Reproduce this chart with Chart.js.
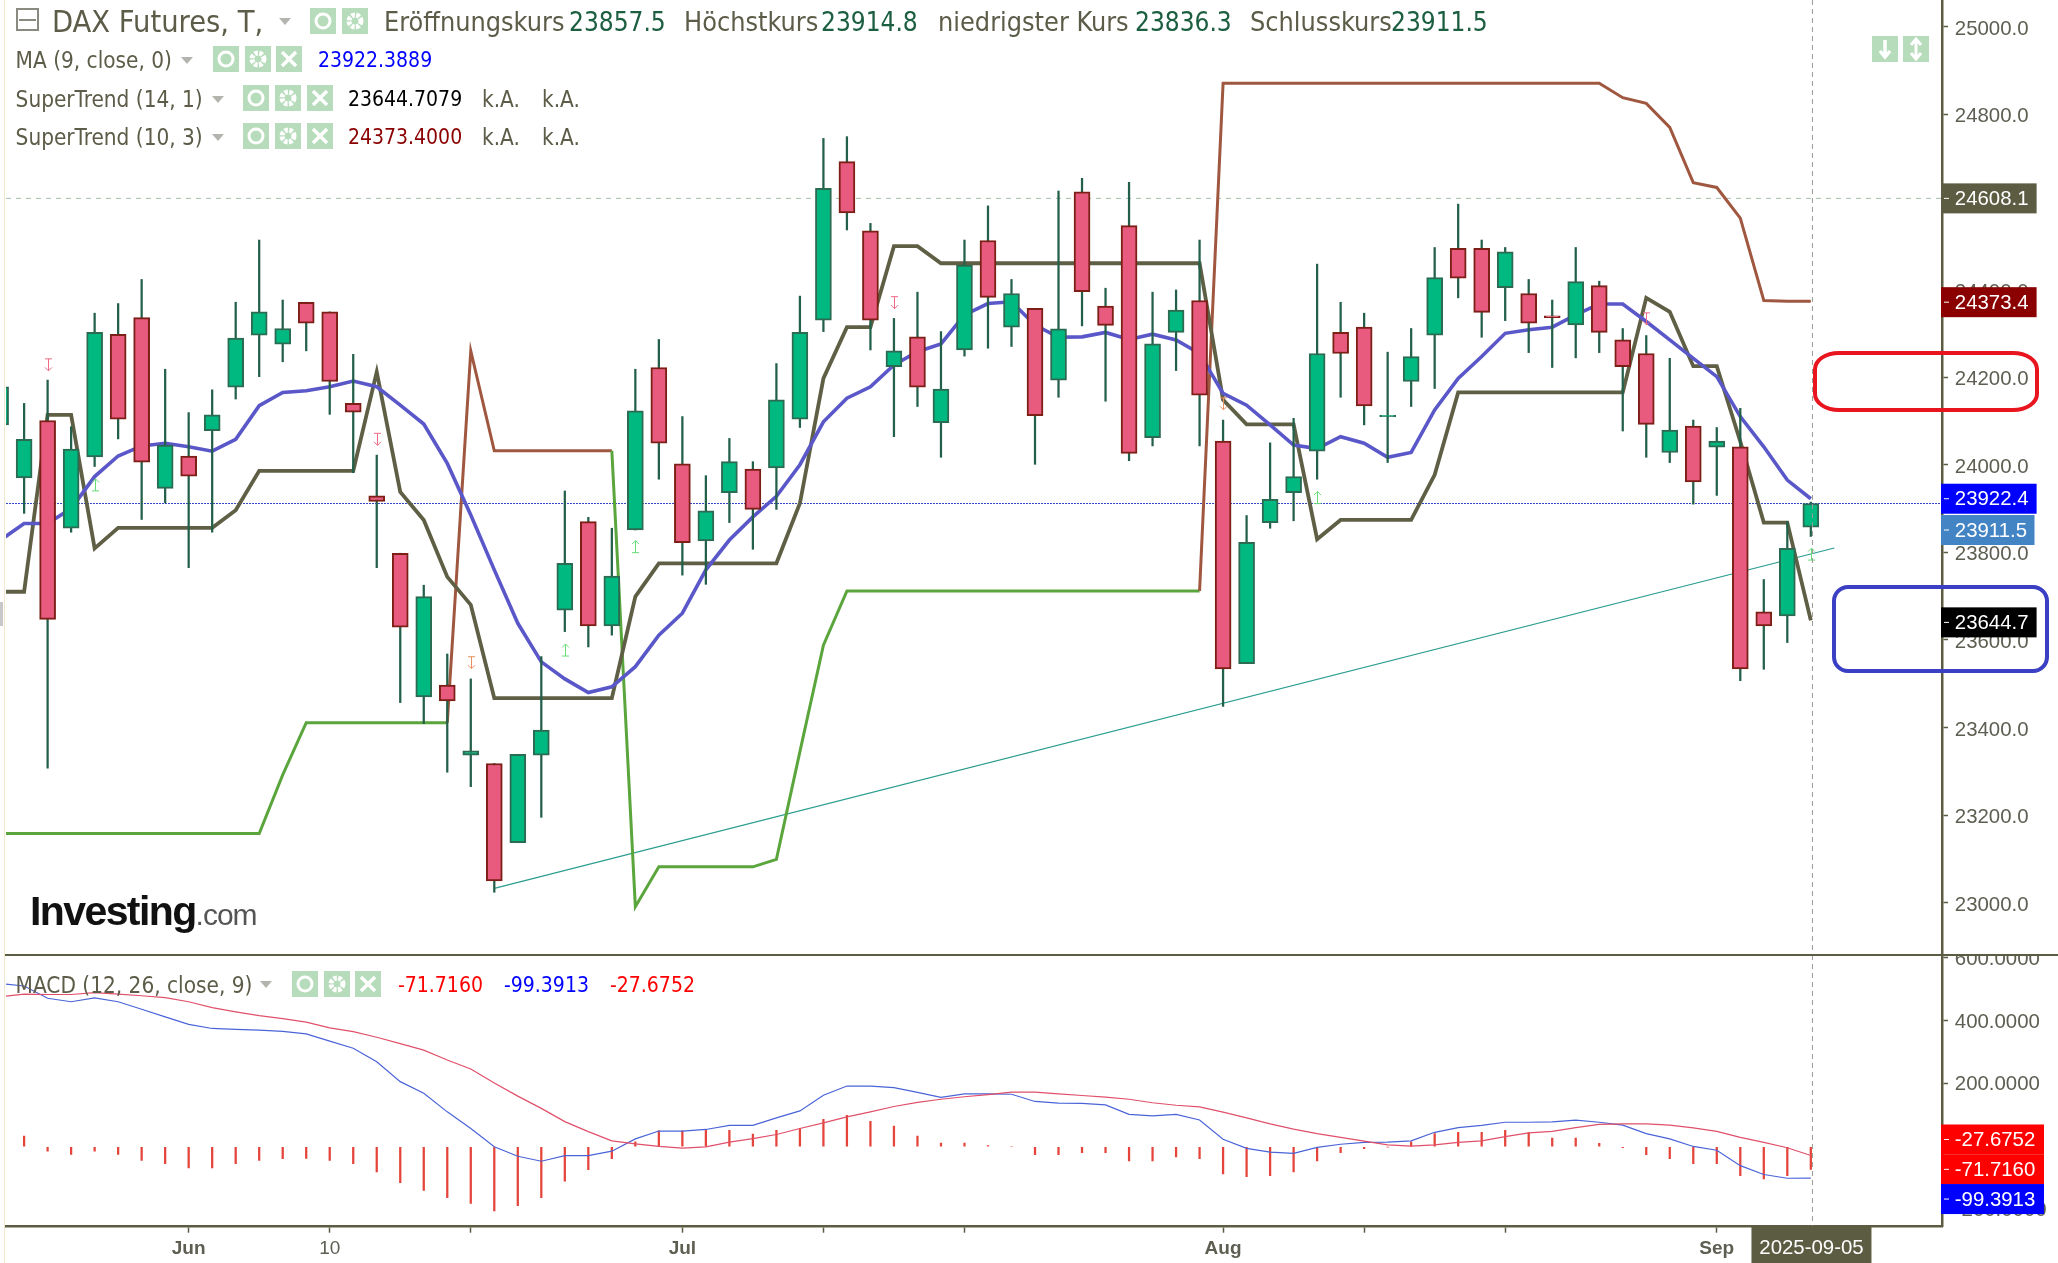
<!DOCTYPE html>
<html>
<head>
<meta charset="utf-8">
<title>DAX Futures</title>
<script src="https://cdn.jsdelivr.net/npm/chart.js"></script>
<style>
  html, body { margin: 0; padding: 0; background: #fff; }
  #page { position: relative; width: 2058px; height: 1263px; overflow: hidden; background: #fff; }
  canvas { position: absolute; left: 0; display: block; }
  #priceChart { top: 0; }
  #macdChart { top: 955px; }
  .t { position: absolute; white-space: nowrap; font-family: 'DejaVu Sans Condensed', 'DejaVu Sans', sans-serif; color: #5c5c48; line-height: 1; transform: translateY(-50%); }
  .title { font-size: 30.5px; }
  .big { font-size: 26.8px; }
  .bignum { font-size: 26px; color: #1b5e40; }
  .small { font-size: 22.4px; }
  .num { font-size: 21px; }
  .tri { position: absolute; width: 0; height: 0; border-left: 6px solid transparent; border-right: 6px solid transparent; border-top: 7px solid #b4b4ae; }
  .ic { position: absolute; width: 26px; height: 26px; background: #b6dcbb; }
  .ic svg { display: block; }
  .box { position: absolute; box-sizing: border-box; background: transparent; }
</style>
</head>
<body>
<div id="page">
  <canvas id="priceChart" width="2058" height="955"></canvas>
  <canvas id="macdChart" width="2058" height="308"></canvas>
</div>
<script>
// Candles
const opens = [24091,23970,24101,23855,24018,24298,24336,23946,24020,24078,24177,24296,24275,24371,24349,24140,23929,23798,23470,23497,23337,23318,23137,23337,23668,23870,23632,23851,24222,24002,23826,23936,23990,23993,24104,24330,24692,24534,24224,24292,24096,24262,24512,24314,24357,24193,24623,24362,24546,24062,24302,24375,24054,23546,23868,23936,24031,24302,24314,24110,24190,24296,24494,24494,24404,24391,24340,24319,24409,24285,24254,24028,24088,24040,24041,23664,23655,23857.5];
const highs = [24178,24140,24193,24087,24346,24368,24423,24218,24119,24171,24371,24513,24376,24371,24349,24252,24022,23798,23725,23568,23511,23318,23339,23562,23940,23880,23855,24218,24286,24110,23975,24060,24007,24231,24385,24745,24749,24551,24334,24394,24304,24513,24591,24423,24357,24625,24654,24403,24645,24394,24399,24513,24102,23884,24050,24106,24458,24371,24346,24257,24311,24496,24595,24513,24496,24423,24376,24496,24419,24311,24295,24243,24102,24085,24129,23738,23870,23914.8];
const lows = [24091,23889,23307,23846,23996,24059,23875,23913,23765,23846,24150,24201,24235,24260,24115,23982,23765,23457,23409,23298,23265,23024,23137,23195,23619,23584,23611,23851,23967,23748,23727,23868,23807,23898,24085,24304,24536,24262,24064,24133,24017,24248,24266,24270,24001,24154,24317,24145,24009,24043,24215,24043,23448,23546,23855,23872,23967,24154,24091,24005,24133,24174,24381,24291,24329,24256,24222,24244,24256,24077,24017,24005,23910,23930,23507,23533,23594,23836.3];
const closes = [24178,24058,23647,24036,24302,24104,24006,24045,23974,24114,24289,24349,24311,24323,24190,24120,23916,23629,23699,23461,23347,23050,23339,23394,23775,23632,23746,24123,24049,23822,23895,24007,23898,24148,24302,24631,24575,24330,24260,24177,24173,24456,24382,24391,24112,24310,24395,24318,24026,24276,24353,24159,23534,23823,23921,23973,24254,24254,24134,24113,24247,24427,24426,24348,24486,24323,24336,24418,24302,24224,24092,24079,23961,24054,23534,23632,23809,23911.5];

// Price overlays
const maValues = [23828,23866,23866,23900,23973,24020,24043,24049,24041,24031,24058,24135,24165,24169,24178,24191,24178,24136,24093,24003,23885,23760,23638,23550,23511,23480,23493,23539,23611,23661,23760,23828,23881,23928,24000,24098,24152,24178,24228,24258,24276,24342,24368,24372,24319,24291,24292,24302,24286,24298,24285,24254,24163,24136,24091,24045,24037,24064,24049,24017,24028,24125,24197,24247,24300,24308,24314,24342,24367,24367,24327,24285,24243,24201,24110,24041,23965,23922.4];
const superTrend14 = [23710,23710,24114,24114,23809,23856,23856,23856,23856,23856,23896,23986,23986,23986,23986,23986,24212,23938,23874,23744,23680,23467,23467,23467,23467,23467,23467,23699,23775,23775,23775,23775,23775,23775,23912,24197,24314,24314,24499,24499,24460,24460,24460,24460,24460,24460,24460,24460,24460,24460,24460,24460,24148,24092,24092,24092,23830,23874,23874,23874,23874,23977,24165,24165,24165,24165,24165,24165,24165,24165,24381,24349,24225,24225,24053,23868,23868,23644.7];
const superTrend10 = [23158,23158,23158,23158,23158,23158,23158,23158,23158,23158,23158,23158,23292,23411,23411,23411,23411,23411,23411,23411,24260,24032,24032,24032,24032,24032,24032,22991,23082,23082,23082,23082,23082,23099,23345,23588,23712,23712,23712,23712,23712,23712,23712,23712,23712,23712,23712,23712,23712,23712,23712,23712,24871,24871,24871,24871,24871,24871,24871,24871,24871,24871,24871,24871,24871,24871,24871,24871,24871,24838,24825,24770,24644,24633,24563,24375,24373.4,24373.4];
const trendIndex = [21, 78];
const trendValues = [23033, 23810];

// Small arrows above and below the candles
const arrowIndex = [2, 4, 16, 20, 24, 27, 38, 52, 56, 70, 77];
const arrowValues = [24228, 23954, 24058, 23548, 23577, 23813, 24370, 24139, 23925, 24333, 23796];
const arrowKinds = ['down', 'up', 'down', 'sell', 'up', 'up', 'down', 'sell', 'up', 'down', 'up'];

// MACD panel
const macdValues = [519,511,472,461,473,461,437,413,389,376,373,371,367,359,336,313,270,207,170,111,58,0,-30,-46,-28,-28,-14,25,50,50,55,68,68,92,114,164,193,193,188,173,157,168,168,167,144,139,138,133,103,98,103,85,24,-5,-17,-21,-2,8,14,15,19,46,61,68,78,78,79,85,78,69,42,25,1,-11,-60,-88,-100,-99.3913];
const signalValues = [477,485,484,484,490,485,480,474,461,442,429,417,407,396,378,366,348,328,307,276,247,203,161,122,80,48,19,9,1,-4,0,15,26,39,58,76,95,111,128,141,151,159,166,174,174,168,163,158,151,140,132,127,110,92,73,56,42,30,18,6,2,6,14,19,32,44,49,61,71,73,73,69,60,49,30,14,-3,-27.6752];
const histValues = [0,34,-14,-24,-14,-24,-43,-54,-67,-67,-54,-43,-38,-37,-43,-54,-80,-114,-139,-162,-180,-204,-187,-162,-109,-73,-38,16,51,51,55,52,40,52,58,87,100,81,66,34,12,12,4,0,-25,-25,-19,-19,-45,-45,-32,-38,-86,-95,-92,-80,-45,-19,-6,-1,16,42,46,46,52,45,28,28,11,-3,-25,-38,-54,-54,-92,-102,-92,-71.716];

// Axis ticks
const priceTicks = [23000, 23200, 23400, 23600, 23800, 24000, 24200, 24400, 24600, 24800, 25000];
const macdTicks = [-200, 0, 200, 400, 600];
const timeTickIndex = [8, 14, 20, 29, 35, 41, 52, 58, 64, 73];
const timeTickLabels = ['Jun', '10', '', 'Jul', '', '', 'Aug', '', '', 'Sep'];
const lastDate = '2025-09-05';

// Right hand value flags
const priceFlags = [24608.1, 24373.4, 23922.4, 23911.5, 23644.7];
const priceFlagColors = ['#5c5c42', '#8b0000', '#0000ff', '#4284c4', '#000000'];
const priceFlagShift = [0, 1, 0, 26.5, 2];
const macdFlags = [-27.6752, -71.716, -99.3913];
const macdFlagColors = ['#ff0000', '#ff0000', '#0000ff'];
const macdFlagShift = [-16, 0, 21];

const axisColor = '#5c5c42';
const tickText = '#5e5e52';
const axisFont = 'Liberation Sans';
const xMin = 0.23, xMax = 82.58, lastX = 77.07;

const xy = arr => arr.map((v, i) => ({ x: i, y: v }));
const upCandle = i => closes[i] >= opens[i];

function fixWidth(scale) {
  scale.width = 116;
  scale.paddingTop = 0;
  scale.paddingBottom = 0;
}

// The tick labels sit a little below their tick marks, which the axis can't do by itself
function drawTickLabels(chart, scale, decimals, shift) {
  const c = chart.ctx;
  c.save();
  c.font = '20.4px "' + axisFont + '"';
  c.textBaseline = 'middle';
  c.fillStyle = tickText;
  scale.ticks.forEach(t => {
    c.fillText(t.value.toFixed(decimals), 1954.8, scale.getPixelForValue(t.value) + shift);
  });
  c.restore();
}

function drawFlags(chart, scale, values, colors, shifts, decimals, right) {
  const c = chart.ctx;
  c.save();
  c.font = '20.4px "' + axisFont + '"';
  c.textBaseline = 'middle';
  values.forEach((v, i) => {
    const y = scale.getPixelForValue(v) + shifts[i];
    c.fillStyle = colors[i];
    c.fillRect(scale.left - 1, y - 15, right[i] - scale.left + 1, 30);
    c.fillStyle = '#fff';
    c.fillRect(scale.left + 2, y - 0.5, 5, 1);
    c.fillText(v.toFixed(decimals), 1954.8, y + 1);
  });
  c.restore();
}

function drawCrosshair(chart) {
  const c = chart.ctx, x = chart.scales.x.getPixelForValue(lastX);
  c.save();
  c.strokeStyle = '#9a9a94';
  c.lineWidth = 1;
  c.setLineDash([5, 4]);
  c.beginPath();
  c.moveTo(x, chart.chartArea.top);
  c.lineTo(x, chart.chartArea.bottom);
  c.stroke();
  c.restore();
}

const arrowPlugin = {
  id: 'arrows',
  afterDatasetsDraw(chart) {
    const c = chart.ctx;
    c.save();
    c.lineWidth = 1;
    arrowIndex.forEach((idx, i) => {
      const x = Math.round(chart.scales.x.getPixelForValue(idx)) + 0.5;
      const y = chart.scales.y.getPixelForValue(arrowValues[i]);
      const kind = arrowKinds[i];
      const s = kind === 'up' ? -1 : 1;
      c.strokeStyle = kind === 'up' ? '#66dd77' : kind === 'sell' ? '#e89060' : '#f06a85';
      c.beginPath();
      c.moveTo(x - 3.5, y - 6 * s);
      c.lineTo(x + 3.5, y - 6 * s);
      c.moveTo(x, y - 6 * s);
      c.lineTo(x, y + 6 * s);
      c.moveTo(x - 3.5, y + 2.5 * s);
      c.lineTo(x, y + 6 * s);
      c.lineTo(x + 3.5, y + 2.5 * s);
      c.stroke();
    });
    c.restore();
  }
};

const priceOverlay = {
  id: 'priceOverlay',
  afterDraw(chart) {
    drawCrosshair(chart);
    drawTickLabels(chart, chart.scales.y, 1, 2.5);
    drawFlags(chart, chart.scales.y, priceFlags, priceFlagColors, priceFlagShift, 1, [2036.6, 2036.6, 2036.6, 2034.5, 2036.6]);
  }
};

const macdOverlay = {
  id: 'macdOverlay',
  afterDraw(chart) {
    drawCrosshair(chart);
    drawTickLabels(chart, chart.scales.y, 4, 1);
    drawFlags(chart, chart.scales.y, macdFlags, macdFlagColors, macdFlagShift, 4, [2044, 2044, 2044]);
    const c = chart.ctx, x = chart.scales.x.getPixelForValue(lastX);
    c.save();
    c.fillStyle = axisColor;
    c.fillRect(x - 61, chart.chartArea.bottom - 1, 120, 40);
    c.fillStyle = '#fff';
    c.font = '20.4px "' + axisFont + '"';
    c.textAlign = 'center';
    c.textBaseline = 'middle';
    c.fillText(lastDate, x - 1, 293);
    c.restore();
  }
};

new Chart(document.getElementById('priceChart'), {
  type: 'bar',
  data: {
    datasets: [
      {
        label: 'Body',
        data: opens.map((o, i) => ({ x: i, y: [o, closes[i]] })),
        grouped: false,
        barThickness: 16,
        borderWidth: 2,
        borderSkipped: false,
        backgroundColor: opens.map((o, i) => upCandle(i) ? '#00b980' : '#e85a7e'),
        borderColor: opens.map((o, i) => upCandle(i) ? '#2b6b52' : '#7c1f17'),
        order: 0
      },
      {
        label: 'Wick',
        data: lows.map((l, i) => ({ x: i, y: [l, highs[i]] })),
        grouped: false,
        barThickness: 1.6,
        backgroundColor: '#23604a',
        order: 1
      },
      {
        type: 'line',
        label: 'MA (9, close, 0)',
        data: xy(maValues),
        borderColor: '#5a58c8',
        borderWidth: 3.6,
        pointRadius: 0,
        tension: 0,
        order: 2
      },
      {
        type: 'line',
        label: 'SuperTrend (14, 1)',
        data: xy(superTrend14),
        borderColor: '#5f5f45',
        borderWidth: 3.8,
        pointRadius: 0,
        tension: 0,
        order: 3
      },
      {
        type: 'line',
        label: 'SuperTrend (10, 3)',
        data: xy(superTrend10),
        borderColor: '#5aa53c',
        borderWidth: 3,
        pointRadius: 0,
        tension: 0,
        segment: {
          borderColor: ctx => {
            const i = ctx.p1DataIndex;
            return (i >= 20 && i <= 26) || i >= 52 ? '#a0573f' : '#5aa53c';
          }
        },
        order: 4
      },
      {
        type: 'line',
        label: 'Trend',
        data: trendIndex.map((x, i) => ({ x: x, y: trendValues[i] })),
        borderColor: '#2a9d8f',
        borderWidth: 1.2,
        pointRadius: 0,
        order: 5
      },
      {
        type: 'line',
        label: 'Last high',
        data: [{ x: xMin, y: priceFlags[0] }, { x: xMax, y: priceFlags[0] }],
        borderColor: '#a8bda8',
        borderWidth: 1,
        borderDash: [5, 5],
        pointRadius: 0,
        order: 6
      },
      {
        type: 'line',
        label: 'Last close',
        data: [{ x: xMin, y: priceFlags[3] }, { x: xMax, y: priceFlags[3] }],
        borderColor: '#3448c4',
        borderWidth: 1,
        borderDash: [2, 1],
        pointRadius: 0,
        order: 6
      }
    ]
  },
  options: {
    responsive: false,
    animation: false,
    layout: { padding: { left: 6, right: 0, top: 0, bottom: 1 } },
    plugins: { legend: { display: false }, tooltip: { enabled: false } },
    scales: {
      x: { type: 'linear', min: xMin, max: xMax, offset: false, display: false },
      y: {
        position: 'right',
        min: 22883,
        max: 25061,
        afterBuildTicks: s => { s.ticks = priceTicks.map(v => ({ value: v })); },
        afterFit: fixWidth,
        border: { color: axisColor, width: 2.5 },
        grid: { drawOnChartArea: false, tickLength: 6, tickColor: axisColor, tickWidth: 1.5 },
        ticks: { display: false, autoSkip: false }
      }
    }
  },
  plugins: [arrowPlugin, priceOverlay]
});

new Chart(document.getElementById('macdChart'), {
  type: 'bar',
  data: {
    datasets: [
      {
        label: 'Histogram',
        data: xy(histValues),
        barThickness: 1.6,
        backgroundColor: '#e5443a',
        order: 2
      },
      {
        type: 'line',
        label: 'MACD',
        data: xy(macdValues),
        borderColor: '#4a64d8',
        borderWidth: 1.2,
        pointRadius: 0,
        tension: 0,
        order: 1
      },
      {
        type: 'line',
        label: 'Signal',
        data: xy(signalValues),
        borderColor: '#e0506a',
        borderWidth: 1.2,
        pointRadius: 0,
        tension: 0,
        order: 0
      }
    ]
  },
  options: {
    responsive: false,
    animation: false,
    layout: { padding: { left: 6, right: 0, top: 0, bottom: 0 } },
    plugins: { legend: { display: false }, tooltip: { enabled: false } },
    scales: {
      x: {
        type: 'linear',
        min: xMin,
        max: xMax,
        offset: false,
        afterFit: s => { s.height = 36.3; s.paddingLeft = 0; s.paddingRight = 0; },
        afterBuildTicks: s => { s.ticks = timeTickIndex.map(v => ({ value: v })); },
        border: { color: axisColor, width: 2.5 },
        grid: { offset: false, drawOnChartArea: false, tickLength: 6, tickColor: axisColor, tickWidth: 1.5 },
        ticks: {
          autoSkip: false,
          maxRotation: 0,
          padding: 5,
          color: tickText,
          font: ctx => ({ family: axisFont, size: 19, weight: ctx.tick && timeTickIndex.indexOf(ctx.tick.value) === 1 ? 'normal' : 'bold' }),
          callback: v => timeTickLabels[timeTickIndex.indexOf(v)]
        }
      },
      y: {
        position: 'right',
        min: -254,
        max: 609.5,
        afterBuildTicks: s => { s.ticks = macdTicks.map(v => ({ value: v })); },
        afterFit: fixWidth,
        border: { color: axisColor, width: 2.5 },
        grid: { drawOnChartArea: false, tickLength: 6, tickColor: axisColor, tickWidth: 1.5 },
        ticks: { display: false, autoSkip: false }
      }
    }
  },
  plugins: [macdOverlay]
});

// Legend rows and the marks drawn over the chart, as plain page elements
const page = document.getElementById('page');

function place(tag, cls, css, html) {
  const el = document.createElement(tag);
  el.className = cls;
  el.style.cssText = css;
  if (html !== undefined) el.innerHTML = html;
  page.appendChild(el);
  return el;
}

function label(text, x, y, cls, color) {
  place('div', 't ' + cls, 'left:' + x + 'px;top:' + y + 'px;' + (color ? 'color:' + color + ';' : ''), text);
}

const eyeSvg = '<svg width="26" height="26"><circle cx="13" cy="13" r="7" fill="none" stroke="#fff" stroke-width="3"/></svg>';
const gearSvg = '<svg width="26" height="26"><circle cx="13" cy="13" r="6" fill="none" stroke="#fff" stroke-width="5" stroke-dasharray="3.4 1.4"/></svg>';
const closeSvg = '<svg width="26" height="26"><path d="M6 6L20 20M20 6L6 20" stroke="#fff" stroke-width="3.5"/></svg>';
const downSvg = '<svg width="26" height="26"><path d="M13 4V20M8 15L13 21L18 15" fill="none" stroke="#fff" stroke-width="3.5"/></svg>';
const bothSvg = '<svg width="26" height="26"><path d="M13 4V22M8 9L13 3L18 9M8 17L13 23L18 17" fill="none" stroke="#fff" stroke-width="3"/></svg>';

function icons(xs, y, svgs) {
  xs.forEach((x, i) => place('div', 'ic', 'left:' + x + 'px;top:' + y + 'px;', svgs[i]));
}

function tri(x, y) {
  place('div', 'tri', 'left:' + (x - 6) + 'px;top:' + (y - 3) + 'px;');
}

// Collapse box
place('div', 'box', 'left:16px;top:8px;width:23px;height:23px;border:2px solid #8a8a80;');
place('div', 'box', 'left:19px;top:19px;width:17px;height:2px;background:#8a8a80;');

label('DAX Futures, T,', 52, 22, 'title');
tri(285, 21);
icons([310, 342], 8, [eyeSvg, gearSvg]);
label('Eröffnungskurs', 384, 22, 'big');
label('23857.5', 569, 22, 'bignum');
label('Höchstkurs', 684, 22, 'big');
label('23914.8', 821, 22, 'bignum');
label('niedrigster Kurs', 938, 22, 'big');
label('23836.3', 1135, 22, 'bignum');
label('Schlusskurs', 1250, 22, 'big');
label('23911.5', 1391, 22, 'bignum');

label('MA (9, close, 0)', 15.6, 60, 'small');
tri(186.6, 60);
icons([213, 245, 276], 46, [eyeSvg, gearSvg, closeSvg]);
label('23922.3889', 318, 60, 'num', '#0000ff');

label('SuperTrend (14, 1)', 15.6, 99, 'small');
tri(218, 99);
icons([243, 275, 307], 85, [eyeSvg, gearSvg, closeSvg]);
label('23644.7079', 348, 99, 'num', '#000');
label('k.A.', 482, 99, 'small');
label('k.A.', 542, 99, 'small');

label('SuperTrend (10, 3)', 15.6, 137, 'small');
tri(218, 137);
icons([243, 275, 307], 123, [eyeSvg, gearSvg, closeSvg]);
label('24373.4000', 348, 137, 'num', '#8b0000');
label('k.A.', 482, 137, 'small');
label('k.A.', 542, 137, 'small');

label('MACD (12, 26, close, 9)', 15.6, 985, 'small');
tri(265.6, 984);
icons([292, 324, 355], 971, [eyeSvg, gearSvg, closeSvg]);
label('-71.7160', 398, 985, 'num', '#ff0000');
label('-99.3913', 504, 985, 'num', '#0000ff');
label('-27.6752', 610, 985, 'num', '#ff0000');

icons([1872, 1903], 36, [downSvg, bothSvg]);

// Investing.com logo
place('div', 't', "left:30px;top:911px;font-family:'Liberation Sans';font-weight:bold;font-size:41px;letter-spacing:-1.6px;color:#111;", 'Investing<span style="font-weight:normal;font-size:30px;letter-spacing:-1px;color:#555;">.com</span>');

// Hand-drawn highlight frames
place('div', 'box', 'left:1813px;top:351px;width:226px;height:61px;border:4px solid #e8141e;border-radius:26px / 18px;');
place('div', 'box', 'left:1832px;top:585px;width:217px;height:88px;border:4px solid #3a3fc4;border-radius:16px;');

// Panel separator and page edge
place('div', 'box', 'left:5px;top:954px;width:2053px;height:2px;background:' + axisColor + ';');
place('div', 'box', 'left:4px;top:0;width:1px;height:1263px;background:#eee8cc;');
place('div', 'box', 'left:0;top:602px;width:3px;height:24px;background:#c8c8c8;');
</script>
</body>
</html>
